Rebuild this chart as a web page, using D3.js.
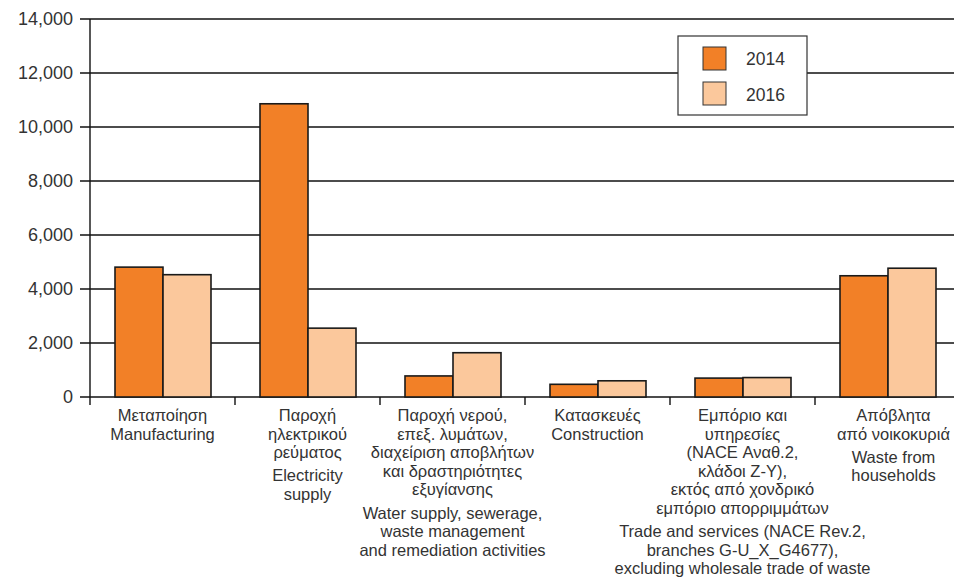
<!DOCTYPE html>
<meta charset="utf-8">
<style>
  body { margin: 0; background: #fff; }
  text { font-family: "Liberation Sans", Arial, Helvetica, sans-serif; fill: #333; }
</style>
<script src="https://d3js.org/d3.v7.min.js"></script>
<div id="my_dataviz"></div>
<script>
  // data
  var categories = ["manufacturing", "electricity", "water", "construction", "trade", "households"];
  var years = ["2014", "2016"];
  var values2014 = [4810, 10860, 780, 470, 700, 4490];
  var values2016 = [4530, 2550, 1640, 600, 720, 4770];
  var yTicks = [0, 2000, 4000, 6000, 8000, 10000, 12000, 14000];

  // label lines: [greek lines, english lines]
  var labelLines = [
    [["Μεταποίηση", "Manufacturing"]],
    [["Παροχή", "ηλεκτρικού", "ρεύματος"], ["Electricity", "supply"]],
    [["Παροχή νερού,", "επεξ. λυμάτων,", "διαχείριση αποβλήτων", "και δραστηριότητες", "εξυγίανσης"],
     ["Water supply, sewerage,", "waste management", "and remediation activities"]],
    [["Κατασκευές", "Construction"]],
    [["Εμπόριο και", "υπηρεσίες", "(NACE Αναθ.2,", "κλάδοι Ζ-Υ),", "εκτός από χονδρικό", "εμπόριο απορριμμάτων"],
     ["Trade and services (NACE Rev.2,", "branches G-U_X_G4677),", "excluding wholesale trade of waste"]],
    [["Απόβλητα", "από νοικοκυριά"], ["Waste from", "households"]]
  ];

  var colors = { "2014": "#f28027", "2016": "#fbc89c" };

  var width = 954, height = 579;
  var plotLeft = 90, plotRight = 960, plotTop = 19, plotBottom = 397;

  var svg = d3.select("#my_dataviz")
    .append("svg")
    .attr("width", width)
    .attr("height", height);

  var x = d3.scaleBand().domain(categories).range([plotLeft, plotRight]);
  var xSub = d3.scaleBand().domain(years).range([25, x.bandwidth() - 24]);
  var y = d3.scaleLinear().domain([0, 14000]).range([plotBottom, plotTop]);

  // gridlines
  svg.selectAll("grid")
    .data(yTicks)
    .enter()
    .append("line")
    .attr("x1", plotLeft - 10)
    .attr("x2", width)
    .attr("y1", function (d) { return y(d); })
    .attr("y2", function (d) { return y(d); })
    .attr("stroke", "#111")
    .attr("stroke-width", 1.4);

  // y labels
  svg.selectAll("ylab")
    .data(yTicks)
    .enter()
    .append("text")
    .attr("x", 73)
    .attr("y", function (d) { return y(d); })
    .attr("dy", "0.35em")
    .attr("text-anchor", "end")
    .style("font-size", "18px")
    .text(function (d) { return d3.format(",")(d); });

  // vertical axis
  svg.append("line")
    .attr("x1", plotLeft).attr("x2", plotLeft)
    .attr("y1", plotTop).attr("y2", plotBottom + 8)
    .attr("stroke", "#111").attr("stroke-width", 1.4);

  // x ticks at category boundaries
  svg.selectAll("xtick")
    .data(categories.slice(1))
    .enter()
    .append("line")
    .attr("x1", function (d) { return x(d); })
    .attr("x2", function (d) { return x(d); })
    .attr("y1", plotBottom).attr("y2", plotBottom + 8)
    .attr("stroke", "#111").attr("stroke-width", 1.4);

  // bars
  var rows = categories.map(function (c, i) {
    return [{ cat: c, year: "2014", value: values2014[i] }, { cat: c, year: "2016", value: values2016[i] }];
  });

  svg.selectAll("groups")
    .data(rows)
    .enter()
    .append("g")
    .attr("transform", function (d) { return "translate(" + x(d[0].cat) + ",0)"; })
    .selectAll("rect")
    .data(function (d) { return d; })
    .enter()
    .append("rect")
    .attr("x", function (d) { return xSub(d.year); })
    .attr("width", xSub.bandwidth())
    .attr("y", function (d) { return y(d.value); })
    .attr("height", function (d) { return plotBottom - y(d.value); })
    .attr("fill", function (d) { return colors[d.year]; })
    .attr("stroke", "#1a1a1a")
    .attr("stroke-width", 1.6);

  // category labels
  var lineH = 18.6, groupGap = 4.5;
  categories.forEach(function (c, i) {
    var cx = x(c) + x.bandwidth() / 2 + (c === "households" ? 6 : 0);
    var yy = 421;
    var t = svg.append("text")
      .attr("text-anchor", "middle")
      .style("font-size", "16.5px");
    labelLines[i].forEach(function (grp, gi) {
      if (gi > 0) yy += groupGap;
      grp.forEach(function (line) {
        t.append("tspan").attr("x", cx).attr("y", yy).text(line);
        yy += lineH;
      });
    });
  });

  // legend
  var legend = svg.append("g").attr("transform", "translate(678,36)");
  legend.append("rect")
    .attr("width", 129).attr("height", 79)
    .attr("fill", "#fff").attr("stroke", "#333").attr("stroke-width", 1.2);
  legend.selectAll("sw")
    .data(years)
    .enter()
    .append("rect")
    .attr("x", 25)
    .attr("y", function (d, i) { return 11 + i * 35; })
    .attr("width", 23).attr("height", 23)
    .attr("fill", function (d) { return colors[d]; })
    .attr("stroke", "#333").attr("stroke-width", 1);
  legend.selectAll("lt")
    .data(years)
    .enter()
    .append("text")
    .attr("x", 68)
    .attr("y", function (d, i) { return 29 + i * 36; })
    .style("font-size", "17.5px")
    .text(function (d) { return d; });
</script>
